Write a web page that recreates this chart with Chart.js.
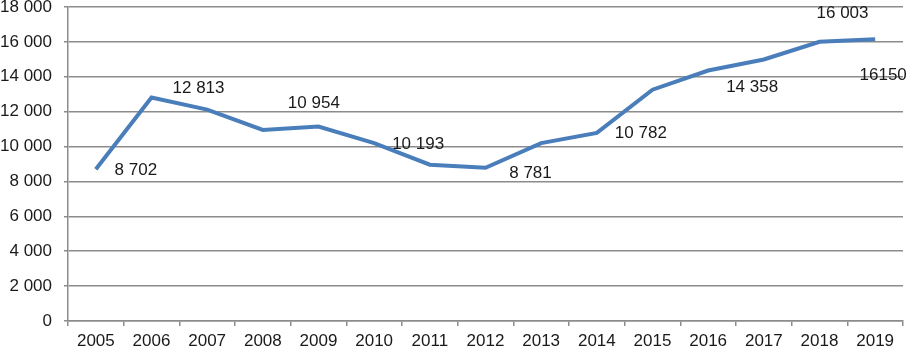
<!DOCTYPE html>
<html>
<head>
<meta charset="utf-8">
<script src="https://cdn.jsdelivr.net/npm/chart.js@4/dist/chart.umd.min.js"></script>
<style>
  html, body { margin: 0; padding: 0; background: #fff; }
  canvas { display: block; }
</style>
</head>
<body>
<canvas id="trendChart" width="907" height="348"></canvas>
<script>
var years = ['2005', '2006', '2007', '2008', '2009', '2010', '2011', '2012',
             '2013', '2014', '2015', '2016', '2017', '2018', '2019'];
var values = [8702, 12813, 12120, 10954, 11150, 10193, 8960, 8781,
              10200, 10782, 13260, 14358, 14990, 16003, 16150];
// data labels shown in the picture (null = no label)
var pointLabels = ['8 702', '12 813', null, '10 954', null, '10 193', null, '8 781',
                   null, '10 782', null, '14 358', null, '16 003', '16150'];
var yMax = 18000;
var yStep = 2000;

// where each label sits relative to its point (dx, dy of text centre)
var labelOffsets = [[40, 1], [47, -9], null, [51, -27], null, [44, 1], null, [45, 5],
                    null, [44, 0], null, [44, 17], null, [23, -29], [8, 36]];

function spaced(v) {
    return String(v).replace(/\B(?=(\d{3})+(?!\d))/g, ' ');
}

var labelPlugin = {
    id: 'pointText',
    afterDatasetsDraw: function(chart) {
        var ctx = chart.ctx;
        var meta = chart.getDatasetMeta(0);
        ctx.save();
        ctx.font = '17px "Liberation Sans", Arial, sans-serif';
        ctx.fillStyle = '#1a1a1a';
        ctx.textAlign = 'center';
        ctx.textBaseline = 'middle';
        meta.data.forEach(function(pt, i) {
            if (!pointLabels[i]) return;
            var off = labelOffsets[i];
            ctx.fillText(pointLabels[i], pt.x + off[0], pt.y + off[1]);
        });
        ctx.restore();
    }
};

var ctx = document.getElementById('trendChart').getContext('2d');
var trendChart = new Chart(ctx, {
    type: 'line',
    data: {
        labels: years,
        datasets: [{
            data: values,
            borderColor: '#4a7ebb',
            borderWidth: 4,
            pointRadius: 0,
            tension: 0,
            fill: false
        }]
    },
    options: {
        responsive: false,
        animation: false,
        layout: { padding: { top: 7, right: 4, left: 0, bottom: 0 } },
        plugins: {
            legend: { display: false },
            tooltip: { enabled: false }
        },
        scales: {
            x: {
                offset: true,
                grid: {
                    offset: true,
                    drawOnChartArea: false,
                    drawTicks: true,
                    tickLength: 5,
                    color: '#8c8c8c',
                    lineWidth: 1.5
                },
                border: { display: true, color: '#8c8c8c', width: 1.5 },
                ticks: {
                    color: '#1a1a1a',
                    padding: 5,
                    maxRotation: 0,
                    autoSkip: false,
                    font: { family: '"Liberation Sans", Arial, sans-serif', size: 17 }
                },
                afterFit: function(scale) { scale.height = 27; }
            },
            y: {
                min: 0,
                max: yMax,
                grid: { color: '#8c8c8c', lineWidth: 1.5, drawTicks: true, tickLength: 4 },
                border: { display: true, color: '#8c8c8c', width: 1.5 },
                ticks: {
                    stepSize: yStep,
                    padding: 12,
                    color: '#1a1a1a',
                    font: { family: '"Liberation Sans", Arial, sans-serif', size: 17 },
                    callback: function(v) { return spaced(v); }
                },
                afterFit: function(scale) {
                    scale.width = 68;
                    scale.paddingTop = 0;
                    scale.paddingBottom = 0;
                }
            }
        }
    },
    plugins: [labelPlugin]
});
</script>
</body>
</html>
